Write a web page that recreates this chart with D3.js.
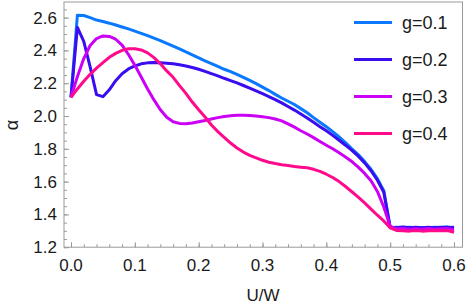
<!DOCTYPE html>
<html><head><meta charset="utf-8">
<script src="https://cdn.jsdelivr.net/npm/d3@7"></script>
<style>body{margin:0;background:#fff}svg{display:block}text{font-family:"Liberation Sans",Arial,sans-serif}</style>
</head><body><svg id="c" width="469" height="307"></svg>
<script>
const xValues = d3.range(0, 61).map(i => +(i * 0.01).toFixed(2));
const seriesNames = ["g=0.1", "g=0.2", "g=0.3", "g=0.4"];
const colors = ["#0a78ff", "#3a0cf0", "#cc00f5", "#ff0a8c"];
const g01 = [2.114,2.615,2.613,2.600,2.585,2.576,2.566,2.555,2.543,2.531,2.518,2.504,2.490,2.475,2.460,2.443,2.426,2.409,2.391,2.373,2.354,2.336,2.320,2.302,2.285,2.270,2.254,2.236,2.217,2.197,2.176,2.155,2.132,2.110,2.090,2.070,2.045,2.020,1.990,1.962,1.935,1.905,1.872,1.838,1.800,1.765,1.722,1.675,1.618,1.545,1.318,1.322,1.320,1.322,1.318,1.320,1.318,1.322,1.320,1.324,1.316];
const g02 = [2.114,2.540,2.455,2.300,2.130,2.118,2.160,2.215,2.258,2.287,2.305,2.318,2.324,2.326,2.325,2.322,2.318,2.312,2.305,2.296,2.285,2.272,2.258,2.245,2.230,2.216,2.202,2.186,2.170,2.153,2.136,2.118,2.100,2.080,2.058,2.036,2.012,1.988,1.962,1.935,1.910,1.882,1.852,1.822,1.790,1.755,1.714,1.666,1.608,1.535,1.322,1.318,1.324,1.318,1.322,1.318,1.321,1.318,1.322,1.320,1.322];
const g03 = [2.114,2.240,2.350,2.430,2.472,2.488,2.485,2.468,2.432,2.375,2.310,2.238,2.165,2.098,2.038,1.992,1.965,1.955,1.953,1.957,1.965,1.973,1.982,1.990,1.997,2.002,2.005,2.005,2.003,2.000,1.996,1.990,1.982,1.970,1.952,1.932,1.910,1.890,1.868,1.845,1.822,1.800,1.776,1.750,1.722,1.688,1.650,1.605,1.540,1.445,1.328,1.312,1.314,1.310,1.312,1.310,1.314,1.310,1.312,1.314,1.306];
const g04 = [2.114,2.165,2.212,2.254,2.292,2.325,2.358,2.382,2.400,2.410,2.410,2.403,2.385,2.356,2.318,2.275,2.236,2.185,2.138,2.085,2.038,1.994,1.945,1.905,1.870,1.835,1.805,1.780,1.760,1.745,1.730,1.718,1.710,1.703,1.698,1.692,1.688,1.684,1.675,1.662,1.645,1.625,1.600,1.570,1.538,1.505,1.470,1.432,1.395,1.360,1.318,1.302,1.300,1.298,1.302,1.298,1.300,1.302,1.300,1.302,1.290];
const xTicks = [0, 0.1, 0.2, 0.3, 0.4, 0.5, 0.6];
const yTicks = [1.2, 1.4, 1.6, 1.8, 2.0, 2.2, 2.4, 2.6];
const xLabel = "U/W", yLabel = "α";

const series = [g01, g02, g03, g04];
const svg = d3.select("#c");
const L = 64, R = 462.5, T = 2, B = 247.2;
const x = d3.scaleLinear().domain([0, 0.6]).range([71, 454]);
const y = d3.scaleLinear().domain([1.2, 2.6]).range([B, B - 1.4 * 164]);
const frameColor = "#9a9a9a";

// frame
svg.append("rect").attr("x", L).attr("y", T).attr("width", R - L).attr("height", B - T)
  .attr("fill", "none").attr("stroke", frameColor).attr("stroke-width", 1);

// x axis ticks (inward)
const xMinor = d3.range(0, 31).map(i => +(i * 0.02).toFixed(2));
const gx = svg.append("g").attr("transform", `translate(0,${B})`);
gx.call(d3.axisTop(x).tickValues(xMinor).tickSize(3).tickFormat(""))
  .call(g => g.select(".domain").remove())
  .call(g => g.selectAll("line").attr("stroke", frameColor));
const gx2 = svg.append("g").attr("transform", `translate(0,${B})`);
gx2.call(d3.axisTop(x).tickValues(xTicks).tickSize(5).tickFormat(""))
  .call(g => g.select(".domain").remove())
  .call(g => g.selectAll("line").attr("stroke", frameColor));
svg.append("g").selectAll("text").data(xTicks).join("text")
  .attr("x", d => x(d)).attr("y", 271).attr("text-anchor", "middle")
  .attr("font-size", 17).attr("fill", "#1a1a1a").text(d3.format(".1f"));

// y axis ticks (inward)
const yMinor = d3.range(0, 30).map(i => +(1.2 + i * 0.05).toFixed(2));
const gy = svg.append("g").attr("transform", `translate(${L},0)`);
gy.call(d3.axisRight(y).tickValues(yMinor).tickSize(3).tickFormat(""))
  .call(g => g.select(".domain").remove())
  .call(g => g.selectAll("line").attr("stroke", frameColor));
const gy2 = svg.append("g").attr("transform", `translate(${L},0)`);
gy2.call(d3.axisRight(y).tickValues(yTicks).tickSize(5).tickFormat(""))
  .call(g => g.select(".domain").remove())
  .call(g => g.selectAll("line").attr("stroke", frameColor));
svg.append("g").selectAll("text").data(yTicks).join("text")
  .attr("x", 57).attr("y", d => y(d)).attr("dy", "0.35em").attr("text-anchor", "end")
  .attr("font-size", 17).attr("fill", "#1a1a1a").text(d3.format(".1f"));

// axis labels
svg.append("text").attr("x", 263).attr("y", 301).attr("text-anchor", "middle")
  .attr("font-size", 17).attr("fill", "#1a1a1a").text(xLabel);
svg.append("text").attr("transform", "translate(18,125) rotate(-90)").attr("text-anchor", "middle")
  .attr("font-size", 18).attr("fill", "#1a1a1a").text(yLabel);

// lines
const line = d3.line().x((d, i) => x(xValues[i])).y(d => y(d));
const clip = svg.append("clipPath").attr("id", "cp").append("rect")
  .attr("x", L).attr("y", T).attr("width", R - L).attr("height", B - T);
svg.append("g").attr("clip-path", "url(#cp)").selectAll("path").data(series).join("path")
  .attr("d", line).attr("fill", "none").attr("stroke", (d, i) => colors[i])
  .attr("stroke-width", 3).attr("stroke-linejoin", "round");

// legend
const leg = svg.append("g");
seriesNames.forEach((n, i) => {
  const ly = 22.5 + i * 37;
  leg.append("line").attr("x1", 354).attr("x2", 392).attr("y1", ly).attr("y2", ly)
    .attr("stroke", colors[i]).attr("stroke-width", 3);
  leg.append("text").attr("x", 402).attr("y", ly).attr("dy", "0.35em")
    .attr("font-size", 18).attr("fill", "#1a1a1a").text(n);
});
</script></body></html>
